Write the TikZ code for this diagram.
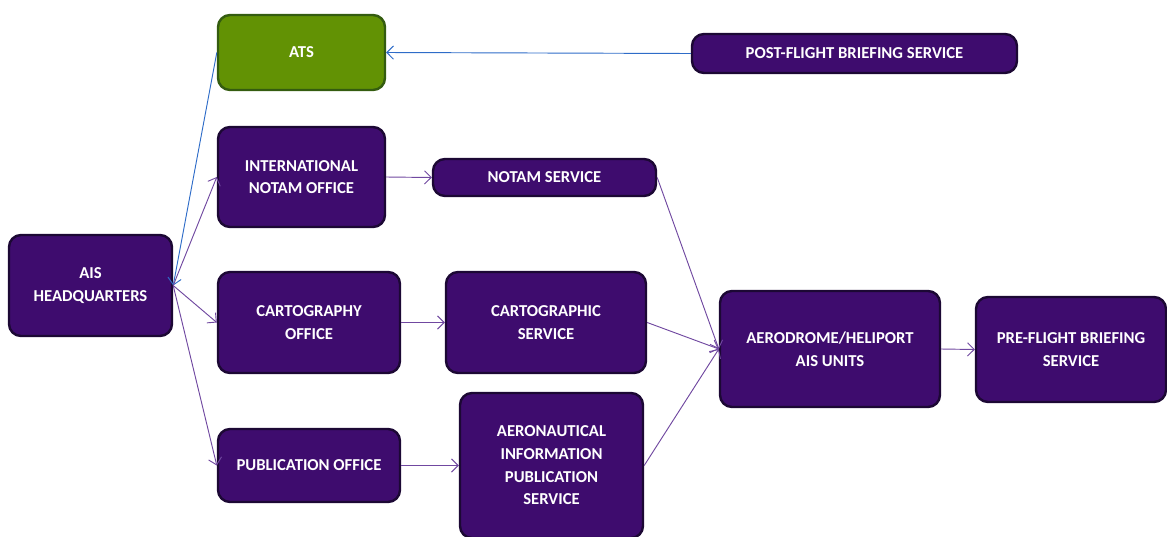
\documentclass[tikz,border=0pt]{standalone}
\usepackage{fontspec}
\setmainfont{Carlito}[BoldFont={Carlito Bold}]
\usetikzlibrary{arrows.meta}
\definecolor{boxfill}{RGB}{62,12,110}
\definecolor{boxline}{RGB}{28,8,52}
\definecolor{atsfill}{RGB}{98,146,4}
\definecolor{atsline}{RGB}{52,92,16}
\definecolor{linkpurple}{RGB}{112,72,160}
\definecolor{linkblue}{RGB}{46,108,200}
\begin{document}
\begin{tikzpicture}[x=0.75pt,y=-0.75pt,
    office/.style={rectangle,rounded corners=9pt,draw=boxline,fill=boxfill,line width=1.8pt,
        text=white,font=\fontsize{12.5}{17}\selectfont\bfseries,align=center,inner sep=0pt},
    greenbox/.style={office,draw=atsline,fill=atsfill},
    link/.style={draw=linkpurple,line width=0.7pt,-{Straight Barb[length=5pt,width=10pt]}},
    bluelink/.style={link,draw=linkblue}]
    \useasboundingbox (0,0) rectangle (1167,536);

    \node[greenbox,minimum width=125.25pt,minimum height=56.25pt] at (301.5,52.5) (ats) {ATS};
    \node[office,minimum width=243.75pt,minimum height=29.25pt] at (854.5,53.5) (postflight) {POST-FLIGHT BRIEFING SERVICE};
    \node[office,minimum width=125.25pt,minimum height=75pt] at (301.5,177) (intl) {INTERNATIONAL\\NOTAM OFFICE};
    \node[office,minimum width=167.25pt,minimum height=27.75pt] at (544.5,177.5) (notamsvc) {NOTAM SERVICE};
    \node[office,minimum width=122.25pt,minimum height=75.75pt] at (90.5,285.5) (hq) {AIS\\HEADQUARTERS};
    \node[office,minimum width=136.5pt,minimum height=75.75pt] at (309,322.5) (cartoff) {CARTOGRAPHY\\OFFICE};
    \node[office,minimum width=150pt,minimum height=75.75pt] at (546,322.5) (cartsvc) {CARTOGRAPHIC\\SERVICE};
    \node[office,minimum width=165pt,minimum height=87pt] at (830,349) (aero) {AERODROME/HELIPORT\\AIS UNITS};
    \node[office,minimum width=142.5pt,minimum height=78.75pt] at (1071,349.5) (preflight) {PRE-FLIGHT BRIEFING\\SERVICE};
    \node[office,minimum width=136.5pt,minimum height=54.75pt] at (309,465.5) (puboff) {PUBLICATION OFFICE};
    \node[office,minimum width=137.25pt,minimum height=108.75pt] at (551.5,465.5) (aips) {AERONAUTICAL\\INFORMATION\\PUBLICATION\\SERVICE};

    % flows
    \draw[bluelink] (postflight.west) -- (ats.east);
    \draw[bluelink] (ats.west) -- (hq.east);
    \draw[link] (hq.east) -- (intl.west);
    \draw[link] (hq.east) -- (cartoff.west);
    \draw[link] (hq.east) -- (puboff.west);
    \draw[link] (intl.east) -- (notamsvc.west);
    \draw[link] (cartoff.east) -- (cartsvc.west);
    \draw[link] (puboff.east) -- (aips.west);
    \draw[link] (notamsvc.east) -- (aero.west);
    \draw[link] (cartsvc.east) -- (aero.west);
    \draw[link] (aips.east) -- (aero.west);
    \draw[link] (aero.east) -- (preflight.west);
\end{tikzpicture}
\end{document}
